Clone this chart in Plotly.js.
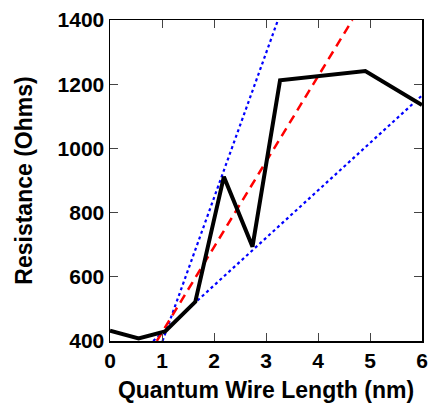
<!DOCTYPE html>
<html>
<head>
<meta charset="utf-8">
<script src="https://cdn.plot.ly/plotly-3.0.1.min.js"></script>
<style>html,body{margin:0;padding:0;background:#fff;}#chart{width:428px;height:403px;}</style>
</head>
<body>
<div id="chart"></div>
<script>
// Measured resistance vs quantum wire length
const wireLength = [0, 0.55, 1.06, 1.64, 2.19, 2.74, 3.27, 4.91, 6.0];
const resistance = [432, 408, 430, 522, 912, 694, 1212, 1241, 1135];

// Fit line (red dashed) endpoints
const fitX = [0.9, 4.66];
const fitY = [400, 1400];

// Bound lines (blue dotted)
const upperX = [1.01, 3.23];
const upperY = [400, 1400];
const lowerX = [0.83, 6.0];
const lowerY = [400, 1165];

const xTicks = [0, 1, 2, 3, 4, 5, 6];
const yTicks = [400, 600, 800, 1000, 1200, 1400];

const fontFam = 'Liberation Sans, Arial, sans-serif';

const traces = [
  {x: upperX, y: upperY, mode: 'lines', line: {color: '#0000ff', width: 2.2, dash: 'dot'}, hoverinfo: 'skip'},
  {x: lowerX, y: lowerY, mode: 'lines', line: {color: '#0000ff', width: 2.2, dash: 'dot'}, hoverinfo: 'skip'},
  {x: fitX, y: fitY, mode: 'lines', line: {color: '#ff0000', width: 2.5, dash: '9px,6px'}, hoverinfo: 'skip'},
  {x: wireLength, y: resistance, mode: 'lines', line: {color: '#000000', width: 4}}
];

const axisCommon = {
  showline: true, mirror: 'ticks', linecolor: '#000', linewidth: 1.5,
  ticks: 'inside', ticklen: 8, tickwidth: 1, tickcolor: '#444',
  showgrid: false, zeroline: false,
  tickfont: {family: fontFam, size: 21, color: '#000', weight: 'bold'}
};

const layout = {
  width: 428, height: 403,
  margin: {l: 110, r: 6, t: 20, b: 62},
  paper_bgcolor: '#fff', plot_bgcolor: '#fff',
  showlegend: false,
  xaxis: Object.assign({}, axisCommon, {
    range: [0, 6], tickvals: xTicks, ticktext: xTicks.map(String),
    title: {text: 'Quantum Wire Length (nm)', font: {family: fontFam, size: 23, color: '#000', weight: 'bold'}, standoff: 11}
  }),
  yaxis: Object.assign({}, axisCommon, {
    range: [400, 1400], tickvals: yTicks, ticktext: yTicks.map(String),
    title: {text: 'Resistance (Ohms)', font: {family: fontFam, size: 23, color: '#000', weight: 'bold'}, standoff: 18}
  })
};

Plotly.newPlot('chart', traces, layout, {displayModeBar: false, staticPlot: true});
</script>
</body>
</html>
